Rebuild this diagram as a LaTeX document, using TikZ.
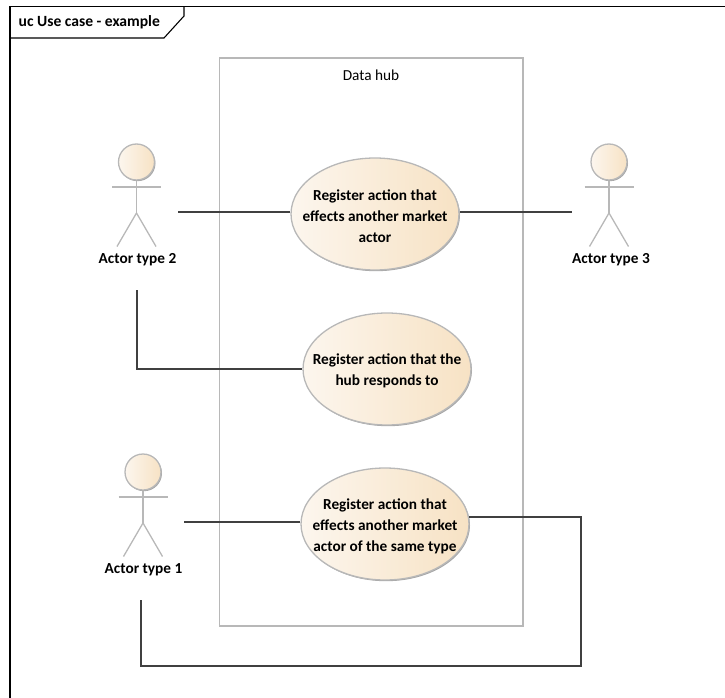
\documentclass[tikz,border=0pt]{standalone}
\usepackage{fontspec}
\setmainfont{Carlito}
\usetikzlibrary{shapes.geometric,shadows}
\definecolor{wireclr}{HTML}{404040}
\definecolor{grayclr}{HTML}{B8B8B8}
\definecolor{shadeL}{HTML}{FCF6EE}
\definecolor{shadeR}{HTML}{F7E2C4}
\newcommand{\toppad}{\rule{0pt}{14.5pt}}
\tikzset{
  wire/.style={draw=wireclr,line width=1.1pt},
  grayline/.style={draw=grayclr,line width=1.3pt},
  usecase/.style={ellipse,draw=grayclr,line width=1.3pt,left color=shadeL,right color=shadeR,
    minimum width=168pt,minimum height=112pt,inner sep=-30pt,align=center,font=\fontsize{15.3}{21}\selectfont\bfseries,
    drop shadow={shadow xshift=1pt,shadow yshift=-1.2pt,fill=gray!70,opacity=1}},
  actorbox/.style={inner sep=0pt,outer sep=0pt,minimum height=156pt},
  actorlabel/.style={inner sep=0pt,font=\fontsize{15.3}{18}\selectfont\bfseries},
  head/.style={circle,draw=grayclr,line width=1.3pt,left color=shadeL,right color=shadeR,minimum size=36pt,inner sep=0pt,
    drop shadow={shadow xshift=1pt,shadow yshift=-1.2pt,fill=gray!70,opacity=1}}
}
\begin{document}
\begin{tikzpicture}[x=1pt,y=-1pt]
\useasboundingbox (0,0) rectangle (725,698);
% frame
\draw[draw=black,line width=1.1pt] (10,698) -- (10,6.5) -- (725,6.5);
\draw[draw=black,line width=1.1pt] (10,38) -- (164,38) -- (184,16) -- (184,6.5);
\node[inner sep=0pt,anchor=west,font=\fontsize{15.6}{18}\selectfont\bfseries] (title) at (18.5,22.5) {uc Use case - example};
% boundary
\draw[grayline] (219.5,58) rectangle (523,626);
\node[inner sep=0pt,font=\fontsize{15.3}{18}\selectfont] (hub) at (371,75.5) {Data hub};
% use cases
\node[usecase] (uc1) at (375,214) {\toppad Register action that\\effects another market\\actor};
\node[usecase] (uc2) at (387,369) {\toppad Register action that the\\hub responds to};
\node[usecase] (uc3) at (385,524) {\toppad Register action that\\effects another market\\actor of the same type};
% actor connection boxes
\node[actorbox,minimum width=82pt] (a2) at (137,212) {};
\node[actorbox,minimum width=74pt] (a3) at (609,212) {};
\node[actorbox,minimum width=86pt] (a1) at (141,522) {};
% actors
\newcommand{\actorfig}[3]{%
  \node[head] (#3) at (#1,#2) {};
  \draw[grayline] (#3.south) -- (#1,#2+51) coordinate (#3hip);
  \draw[grayline] (#1-24.5,#2+25) -- (#1+24.5,#2+25);
  \draw[grayline] (#1-19.5,#2+84.5) -- (#3hip) -- (#1+19.5,#2+84.5);
}
\actorfig{136.5}{162}{h2}
\actorfig{609}{162}{h3}
\actorfig{143}{472}{h1}
\node[actorlabel] (l2) at (137.5,259.5) {Actor type 2};
\node[actorlabel] (l3) at (611,259.5) {Actor type 3};
\node[actorlabel] (l1) at (143.5,569.5) {Actor type 1};
% connectors
\draw[wire] (a2.east) -- (uc1.west |- a2.east);
\draw[wire] (uc1.east |- a3.west) -- (a3.west);
\draw[wire] (a2.south) -- (a2.south |- uc2.west) -- (uc2.west);
\draw[wire] (a1.east) -- (uc3.west |- a1.east);
\draw[wire] (a1.south) -- (141,666) -- (581,666) -- (581,517) -- (469,517);
\end{tikzpicture}
\end{document}
